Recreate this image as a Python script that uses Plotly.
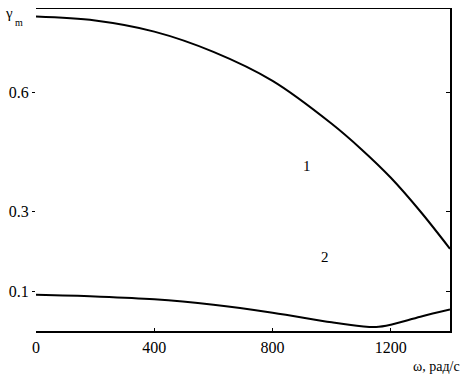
import plotly.graph_objects as go

# Curve 1
omega1 = [0, 200, 400, 600, 800, 1000, 1100, 1200, 1300, 1400]
gamma1 = [0.792, 0.782, 0.754, 0.703, 0.630, 0.522, 0.458, 0.386, 0.301, 0.207]
# Curve 2
omega2 = [0, 200, 400, 600, 800, 1000, 1100, 1150, 1200, 1300, 1400]
gamma2 = [0.091, 0.087, 0.080, 0.066, 0.046, 0.022, 0.012, 0.010, 0.016, 0.036, 0.054]

x_ticks = [0, 400, 800, 1200]
x_ticktext = ["0", "400", "800", "1200"]
y_ticks = [0.1, 0.3, 0.6]
y_ticktext = ["0.1", "0.3", "0.6"]
curve_labels = ["1", "2"]
label_pos = [(916, 0.416), (977, 0.186)]

FONT = "Liberation Serif"
tickfont = dict(family=FONT, size=16, color="black")

fig = go.Figure()
for xs, ys in ((omega1, gamma1), (omega2, gamma2)):
    fig.add_trace(go.Scatter(x=xs, y=ys, mode="lines",
                             line=dict(color="black", width=2, shape="spline", smoothing=1.0),
                             showlegend=False, hoverinfo="skip"))
# invisible trace to activate right axis
fig.add_trace(go.Scatter(x=[omega1[0]], y=[gamma1[0]], yaxis="y2", mode="markers",
                         marker=dict(opacity=0), showlegend=False, hoverinfo="skip"))

for t, (xv, yv) in zip(curve_labels, label_pos):
    fig.add_annotation(x=xv, y=yv, text=t, showarrow=False,
                       font=dict(family=FONT, size=15, color="black"))

fig.add_annotation(xref="paper", yref="paper", x=-0.08, y=1.02, xanchor="left", yanchor="top",
                   text="γ", showarrow=False, font=dict(family=FONT, size=15, color="black"))
fig.add_annotation(xref="paper", yref="paper", x=-0.055, y=0.98, xanchor="left", yanchor="top",
                   text="m", showarrow=False, font=dict(family=FONT, size=10, color="black"))
fig.add_annotation(xref="paper", yref="paper", x=0.905, y=-0.08, xanchor="left", yanchor="top",
                   text="ω, рад/с", showarrow=False, font=dict(family=FONT, size=14, color="black"))

fig.update_layout(
    width=473, height=376,
    margin=dict(l=36, r=23, t=7, b=45),
    paper_bgcolor="white", plot_bgcolor="white",
    font=dict(family=FONT, size=16, color="black"),
    xaxis=dict(range=[0, 1400], tickvals=x_ticks, ticktext=x_ticktext, tickfont=tickfont,
               showgrid=False, zeroline=False, showline=True, linecolor="black", linewidth=1.5,
               mirror=True, ticks="inside", ticklen=3, tickcolor="black",
               ticklabelstandoff=1),
    yaxis=dict(range=[0, 0.811], tickvals=y_ticks, ticktext=y_ticktext, tickfont=tickfont,
               showgrid=False, zeroline=False, showline=False,
               ticks="outside", ticklen=3, tickcolor="black", tickwidth=1),
    yaxis2=dict(range=[0, 0.811], overlaying="y", side="right", tickvals=y_ticks,
                showticklabels=False, showgrid=False, zeroline=False, showline=True,
                linecolor="black", linewidth=1.5, ticks="inside", ticklen=4, tickcolor="black"),
)

fig.write_html("out.html", config={"displayModeBar": False, "staticPlot": True},
               post_script="document.body.style.margin='0';document.body.style.overflow='hidden';")
